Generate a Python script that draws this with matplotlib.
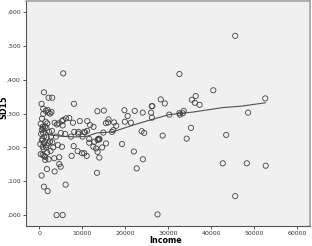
import matplotlib
matplotlib.use("Agg")
import matplotlib.pyplot as plt
import numpy as np

# scatter values (Income, SD15)
income = [
    5550, 32600, 45600, 40500, 52600, 36400, 35500, 36200, 37300, 28250,
    29200, 26300, 24050, 26000, 26200, 30250, 32600, 32750, 33400, 33600,
    48600, 23800, 24400, 28700, 35300, 34300, 43500, 24100, 42700, 48300,
    52700, 45600, 27500,
    1050, 2140, 2980, 8040, 510, 890, 1500, 1900, 2100, 2500,
    2800, 890, 7800, 9400, 6950, 6200, 5550, 5250, 3540, 4080,
    4470, 1450, 1820, 5400, 750, 560, 890, 2290, 2910, 5000,
    6000, 8100, 9100, 10400, 1100, 1680, 2680, 3850, 7340, 10060,
    580, 1120, 1680, 2050, 2450, 1520, 750, 4310, 5250, 7970,
    8900, 9900, 10440, 7500, 750, 1120, 1350, 2140, 1350, 3450,
    4620, 4620, 4940, 3540, 1750, 510, 1050, 1910, 6100, 4000, 5400,
    13500, 15000, 19800, 22200, 20550, 16100, 15500, 17400, 17900, 19900,
    21300, 11150, 12600, 11100, 14900, 16900, 13700, 11600, 11600, 12800,
    13550, 15500, 19230, 12550, 13200, 14600, 13550, 11000, 13950, 22000,
    22650, 13400, 16000, 9000, 10600, 13900, 14000, 11800, 17200, 26150,
    300, 600, 400, 900, 1300, 1600, 700, 200, 1000, 1800,
    300, 2600, 3200, 3000,
]
sd15 = [
    0.419, 0.417, 0.530, 0.369, 0.345, 0.352, 0.341, 0.332, 0.326, 0.342,
    0.330, 0.322, 0.303, 0.303, 0.288, 0.297, 0.301, 0.297, 0.301, 0.308,
    0.303, 0.248, 0.243, 0.235, 0.258, 0.226, 0.237, 0.165, 0.153, 0.153,
    0.146, 0.056, 0.002,
    0.363, 0.347, 0.347, 0.329, 0.329, 0.314, 0.308, 0.311, 0.303, 0.300,
    0.305, 0.299, 0.273, 0.278, 0.287, 0.286, 0.281, 0.278, 0.273, 0.268,
    0.271, 0.276, 0.271, 0.265, 0.261, 0.252, 0.242, 0.246, 0.249, 0.243,
    0.240, 0.246, 0.246, 0.246, 0.232, 0.230, 0.232, 0.232, 0.232, 0.232,
    0.220, 0.214, 0.207, 0.212, 0.217, 0.200, 0.202, 0.207, 0.202, 0.204,
    0.189, 0.183, 0.183, 0.175, 0.178, 0.175, 0.172, 0.165, 0.163, 0.168,
    0.171, 0.151, 0.143, 0.129, 0.136, 0.117, 0.084, 0.071, 0.090, 0.000, 0.000,
    0.307, 0.309, 0.310, 0.308, 0.293, 0.283, 0.272, 0.274, 0.264, 0.276,
    0.273, 0.278, 0.261, 0.249, 0.244, 0.246, 0.225, 0.225, 0.214, 0.217,
    0.222, 0.212, 0.210, 0.202, 0.197, 0.200, 0.187, 0.175, 0.170, 0.188,
    0.138, 0.125, 0.274, 0.241, 0.245, 0.226, 0.224, 0.266, 0.251, 0.322,
    0.270, 0.285, 0.240, 0.255, 0.262, 0.258, 0.225, 0.210, 0.195, 0.185,
    0.180, 0.190, 0.200, 0.215,
]

# fit line
fit_x = [300, 2450, 5000, 8740, 11000, 13400, 17100, 21800, 25760, 30200, 36000, 42800, 47000, 52600]
fit_y = [0.262, 0.237, 0.233, 0.231, 0.233, 0.243, 0.246, 0.266, 0.281, 0.297, 0.305, 0.318, 0.322, 0.332]

xticks = [0, 10000, 20000, 30000, 40000, 50000, 60000]
yticks = [0.0, 0.1, 0.2, 0.3, 0.4, 0.5, 0.6]

fig = plt.figure(figsize=(3.12, 2.46), dpi=100)
ax = fig.add_axes([0.083, 0.081, 0.911, 0.915])
ax.set_facecolor("#f0f0f0")

ax.scatter(income, sd15, s=14, facecolors="none", edgecolors="#404040", linewidths=0.6, zorder=3)
ax.plot(fit_x, fit_y, color="#505050", linewidth=0.8, zorder=2)

ax.set_xlim(-3150, 63050)
ax.set_ylim(-0.0325, 0.633)
ax.set_xticks(xticks)
ax.set_xticklabels([str(v) for v in xticks])
ax.set_yticks(yticks)
ax.set_yticklabels(["," + ("%.3f" % v).split(".")[1] for v in yticks])
ax.tick_params(labelsize=4.5, length=2.5, width=0.6, colors="#333333", pad=1.2)

for side in ["left", "bottom"]:
    ax.spines[side].set_color("#555555")
    ax.spines[side].set_linewidth(0.8)
for side in ["top", "right"]:
    ax.spines[side].set_color("#a0a0a0")
    ax.spines[side].set_linewidth(1.2)

ax.set_xlabel("Income", fontsize=5.8, fontweight="bold", va="center")
ax.set_ylabel("SD15", fontsize=5.8, fontweight="bold", va="center")
ax.xaxis.set_label_coords(0.49, -0.066)
ax.yaxis.set_label_coords(-0.077, 0.53)

plt.savefig("out.png", dpi=100)
plt.close()
